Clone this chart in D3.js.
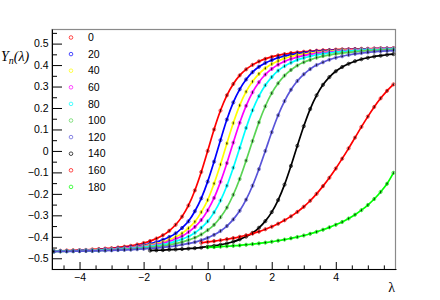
<!DOCTYPE html>
<html><head><meta charset="utf-8">
<script src="https://cdn.jsdelivr.net/npm/d3@7"></script>
<style>body{margin:0;background:#fff}</style>
</head><body>
<svg id="c" width="440" height="300"></svg>
<script>
// ---------------- data ----------------
const seriesLabels = ["0","20","40","60","80","100","120","140","160","180"];
const seriesColors = ["#ff0000","#0000ff","#ffff00","#ff00ff","#00ffff","#59d454","#5954d8","#000000","#ff0000","#00ff00"];

const lambdaAll = [-4.8,-4.6,-4.4,-4.2,-4.0,-3.8,-3.6,-3.4,-3.2,-3.0,-2.8,-2.6,-2.4,-2.2,-2.0,-1.8,-1.6,-1.4,-1.2,-1.0,-0.8,-0.6,-0.4,-0.2,0.0,0.2,0.4,0.6,0.8,1.0,1.2,1.4,1.6,1.8,2.0,2.2,2.4,2.6,2.8,3.0,3.2,3.4,3.6,3.8,4.0,4.2,4.4,4.6,4.8,5.0,5.2,5.4,5.6,5.8];
const lambda140 = [-1.8,-1.6,-1.4,-1.2,-1.0,-0.8,-0.6,-0.4,-0.2,0.0,0.2,0.4,0.6,0.8,1.0,1.2,1.4,1.6,1.8,2.0,2.2,2.4,2.6,2.8,3.0,3.2,3.4,3.6,3.8,4.0,4.2,4.4,4.6,4.8,5.0,5.2,5.4,5.6,5.8];
const lambda160 = [-0.2,0.0,0.2,0.4,0.6,0.8,1.0,1.2,1.4,1.6,1.8,2.0,2.2,2.4,2.6,2.8,3.0,3.2,3.4,3.6,3.8,4.0,4.2,4.4,4.6,4.8,5.0,5.2,5.4,5.6,5.8];
const lambda180 = [0.0,0.2,0.4,0.6,0.8,1.0,1.2,1.4,1.6,1.8,2.0,2.2,2.4,2.6,2.8,3.0,3.2,3.4,3.6,3.8,4.0,4.2,4.4,4.6,4.8,5.0,5.2,5.4,5.6,5.8];

const y0   = [-0.466,-0.465,-0.464,-0.463,-0.462,-0.461,-0.459,-0.457,-0.455,-0.453,-0.450,-0.446,-0.442,-0.436,-0.429,-0.420,-0.408,-0.393,-0.372,-0.344,-0.306,-0.254,-0.184,-0.098,0.000,0.100,0.188,0.259,0.312,0.352,0.380,0.401,0.417,0.429,0.438,0.445,0.451,0.456,0.459,0.462,0.465,0.467,0.469,0.470,0.472,0.473,0.474,0.475,0.476,0.476,0.477,0.478,0.478,0.479];
const y20  = [-0.467,-0.466,-0.466,-0.465,-0.464,-0.463,-0.462,-0.460,-0.458,-0.457,-0.454,-0.452,-0.448,-0.444,-0.439,-0.433,-0.425,-0.414,-0.401,-0.384,-0.359,-0.328,-0.281,-0.221,-0.143,-0.050,0.050,0.146,0.226,0.287,0.333,0.367,0.392,0.410,0.423,0.434,0.442,0.448,0.454,0.457,0.461,0.464,0.466,0.468,0.469,0.471,0.472,0.473,0.474,0.475,0.476,0.477,0.477,0.478];
const y40  = [-0.467,-0.467,-0.466,-0.465,-0.465,-0.464,-0.462,-0.461,-0.460,-0.458,-0.456,-0.454,-0.451,-0.447,-0.443,-0.438,-0.432,-0.425,-0.414,-0.401,-0.384,-0.360,-0.330,-0.285,-0.229,-0.152,-0.063,0.035,0.130,0.212,0.276,0.323,0.359,0.385,0.405,0.419,0.431,0.439,0.446,0.451,0.456,0.459,0.462,0.465,0.467,0.469,0.470,0.471,0.472,0.473,0.475,0.476,0.476,0.477];
const y60  = [-0.467,-0.467,-0.466,-0.466,-0.465,-0.464,-0.463,-0.462,-0.460,-0.459,-0.457,-0.455,-0.452,-0.449,-0.446,-0.442,-0.436,-0.430,-0.421,-0.410,-0.397,-0.378,-0.354,-0.322,-0.277,-0.219,-0.144,-0.057,0.039,0.131,0.210,0.273,0.320,0.356,0.382,0.402,0.417,0.428,0.437,0.444,0.450,0.455,0.458,0.461,0.464,0.466,0.468,0.469,0.470,0.472,0.473,0.474,0.475,0.476];
const y80  = [-0.468,-0.467,-0.467,-0.466,-0.465,-0.464,-0.464,-0.463,-0.461,-0.460,-0.459,-0.457,-0.455,-0.452,-0.449,-0.445,-0.441,-0.436,-0.430,-0.421,-0.411,-0.399,-0.381,-0.358,-0.328,-0.286,-0.231,-0.162,-0.078,0.014,0.107,0.189,0.255,0.306,0.344,0.374,0.395,0.411,0.424,0.433,0.441,0.447,0.452,0.456,0.460,0.463,0.465,0.467,0.469,0.470,0.471,0.472,0.473,0.474];
const y100 = [-0.468,-0.468,-0.467,-0.467,-0.466,-0.465,-0.465,-0.464,-0.463,-0.461,-0.460,-0.459,-0.457,-0.455,-0.453,-0.450,-0.446,-0.442,-0.438,-0.432,-0.425,-0.415,-0.404,-0.389,-0.369,-0.344,-0.309,-0.264,-0.204,-0.131,-0.045,0.046,0.133,0.208,0.269,0.315,0.351,0.377,0.398,0.413,0.424,0.434,0.442,0.447,0.452,0.456,0.459,0.462,0.465,0.467,0.468,0.470,0.471,0.472];
const y120 = [-0.469,-0.468,-0.468,-0.467,-0.467,-0.466,-0.466,-0.465,-0.464,-0.463,-0.462,-0.461,-0.460,-0.458,-0.456,-0.454,-0.452,-0.449,-0.446,-0.442,-0.437,-0.431,-0.425,-0.416,-0.405,-0.391,-0.373,-0.350,-0.319,-0.279,-0.227,-0.162,-0.085,0.000,0.087,0.166,0.232,0.285,0.326,0.357,0.381,0.400,0.413,0.425,0.434,0.441,0.447,0.452,0.456,0.459,0.462,0.464,0.466,0.467];
const y140 = [-0.464,-0.463,-0.462,-0.460,-0.459,-0.457,-0.455,-0.453,-0.450,-0.446,-0.442,-0.437,-0.431,-0.423,-0.412,-0.399,-0.382,-0.358,-0.327,-0.285,-0.229,-0.157,-0.070,0.024,0.115,0.195,0.259,0.308,0.344,0.371,0.391,0.406,0.418,0.427,0.434,0.440,0.444,0.448,0.451];
const y160 = [-0.428,-0.424,-0.420,-0.416,-0.411,-0.406,-0.400,-0.393,-0.385,-0.376,-0.365,-0.353,-0.339,-0.323,-0.305,-0.284,-0.260,-0.232,-0.200,-0.164,-0.125,-0.082,-0.036,0.012,0.062,0.112,0.160,0.205,0.245,0.280,0.310];
const y180 = [-0.449,-0.448,-0.446,-0.444,-0.442,-0.440,-0.437,-0.434,-0.431,-0.427,-0.423,-0.418,-0.413,-0.407,-0.401,-0.394,-0.386,-0.377,-0.367,-0.356,-0.344,-0.331,-0.315,-0.297,-0.276,-0.252,-0.224,-0.191,-0.153,-0.102];

const yMajorTicks = [-0.5,-0.4,-0.3,-0.2,-0.1,0,0.1,0.2,0.3,0.4,0.5];
const yMinorTicks = [-0.55,-0.45,-0.35,-0.25,-0.15,-0.05,0.05,0.15,0.25,0.35,0.45,0.55];
const xMajorTicks = [-4,-2,0,2,4];
const xMinorTicks = [-4.5,-3.5,-3,-2.5,-1.5,-1,-0.5,0.5,1,1.5,2.5,3,3.5,4.5,5,5.5];

// ---------------- build ----------------
const xsList = [lambdaAll,lambdaAll,lambdaAll,lambdaAll,lambdaAll,lambdaAll,lambdaAll,lambda140,lambda160,lambda180];
const ysList = [y0,y20,y40,y60,y80,y100,y120,y140,y160,y180];
const series = seriesLabels.map((lab,i)=>({label:lab,color:seriesColors[i],
  pts: xsList[i].map((v,j)=>[v, ysList[i][j]])}));

const svg = d3.select("#c");
svg.append("rect").attr("width",440).attr("height",300).attr("fill","#fff");
const L=52,T=29,R=396,B=269;
const x = d3.scaleLinear().domain([-4.86,5.88]).range([L,R]);
const y = d3.scaleLinear().domain([-0.55,0.568]).range([B,T]);

svg.append("defs").append("clipPath").attr("id","clip")
  .append("rect").attr("x",L).attr("y",T).attr("width",R-L).attr("height",B-T);

svg.append("rect").attr("x",L).attr("y",T+0.5).attr("width",R-L-0.5).attr("height",B-T)
  .attr("fill","none").attr("stroke","#8a8a8a").attr("stroke-width",1.2);

const plot = svg.append("g").attr("clip-path","url(#clip)");
const line = d3.line().x(d=>x(d[0])).y(d=>y(d[1])).curve(d3.curveMonotoneX);
series.forEach(s=>{
  const g = plot.append("g");
  g.selectAll("circle.m").data(s.pts).join("circle").attr("class","m")
    .attr("cx",d=>x(d[0])).attr("cy",d=>y(d[1])).attr("r",1.6)
    .attr("fill","none").attr("stroke",s.color).attr("stroke-width",0.9).attr("opacity",0.75);
  g.append("path").datum(s.pts).attr("d",line).attr("fill","none")
    .attr("stroke",s.color).attr("stroke-width",1.7);
  g.selectAll("line.e").data(s.pts).join("line").attr("class","e")
    .attr("x1",d=>x(d[0])).attr("x2",d=>x(d[0]))
    .attr("y1",d=>y(d[1])-1.6).attr("y2",d=>y(d[1])+1.6)
    .attr("stroke","#000").attr("stroke-width",0.8).attr("opacity",0.6);
  g.selectAll("circle.d").data(s.pts).join("circle").attr("class","d")
    .attr("cx",d=>x(d[0])).attr("cy",d=>y(d[1])).attr("r",0.8)
    .attr("fill","#000").attr("opacity",0.6);
});

const fmt = d => d===0 ? "0" : d3.format(".1f")(d);
const fmtX = d => d3.format("d")(d);
const font = "Liberation Sans, Arial, Helvetica, sans-serif";

svg.append("g").attr("transform",`translate(${L},0)`)
  .call(d3.axisLeft(y).tickValues(yMajorTicks).tickSizeInner(-10).tickSizeOuter(0).tickPadding(3.5).tickFormat(fmt));
svg.append("g").attr("transform",`translate(${L},0)`)
  .call(d3.axisLeft(y).tickValues(yMinorTicks).tickSizeInner(-5).tickSizeOuter(0).tickFormat(""))
  .call(g=>g.select(".domain").remove());
svg.append("g").attr("transform",`translate(0,${B})`)
  .call(d3.axisBottom(x).tickValues(xMajorTicks).tickSizeInner(-7).tickSizeOuter(0).tickPadding(5).tickFormat(fmtX));
svg.append("g").attr("transform",`translate(0,${B})`)
  .call(d3.axisBottom(x).tickValues(xMinorTicks).tickSizeInner(-3.6).tickSizeOuter(0).tickFormat(""))
  .call(g=>g.select(".domain").remove());
svg.selectAll(".tick text").attr("font-family",font).attr("font-size",10.5).attr("fill","#000");
svg.selectAll(".tick line, .domain").attr("stroke","#000");

// axis titles
const yt = svg.append("text").attr("x",1).attr("y",61)
  .attr("font-family","Liberation Serif, Times New Roman, serif").attr("font-style","italic").attr("font-size",14).attr("fill","#000");
yt.append("tspan").text("Y");
yt.append("tspan").attr("font-size",10).attr("dy",3).text("n");
yt.append("tspan").attr("dy",-3).text("(λ)");
svg.append("text").attr("x",395).attr("y",292).attr("text-anchor","end")
  .attr("font-family","Liberation Serif, Times New Roman, serif").attr("font-size",14).attr("fill","#000").text("λ");

// legend
const leg = svg.append("g");
series.forEach((s,i)=>{
  const cy = 37.5 + 16.6*i;
  leg.append("circle").attr("cx",71).attr("cy",cy).attr("r",1.8).attr("fill","none").attr("stroke",s.color).attr("stroke-width",1).attr("opacity",0.7);
  leg.append("text").attr("x",88).attr("y",cy).attr("dy","0.35em").attr("font-family",font).attr("font-size",10.5).attr("fill","#000").text(s.label);
});
</script>
</body></html>
